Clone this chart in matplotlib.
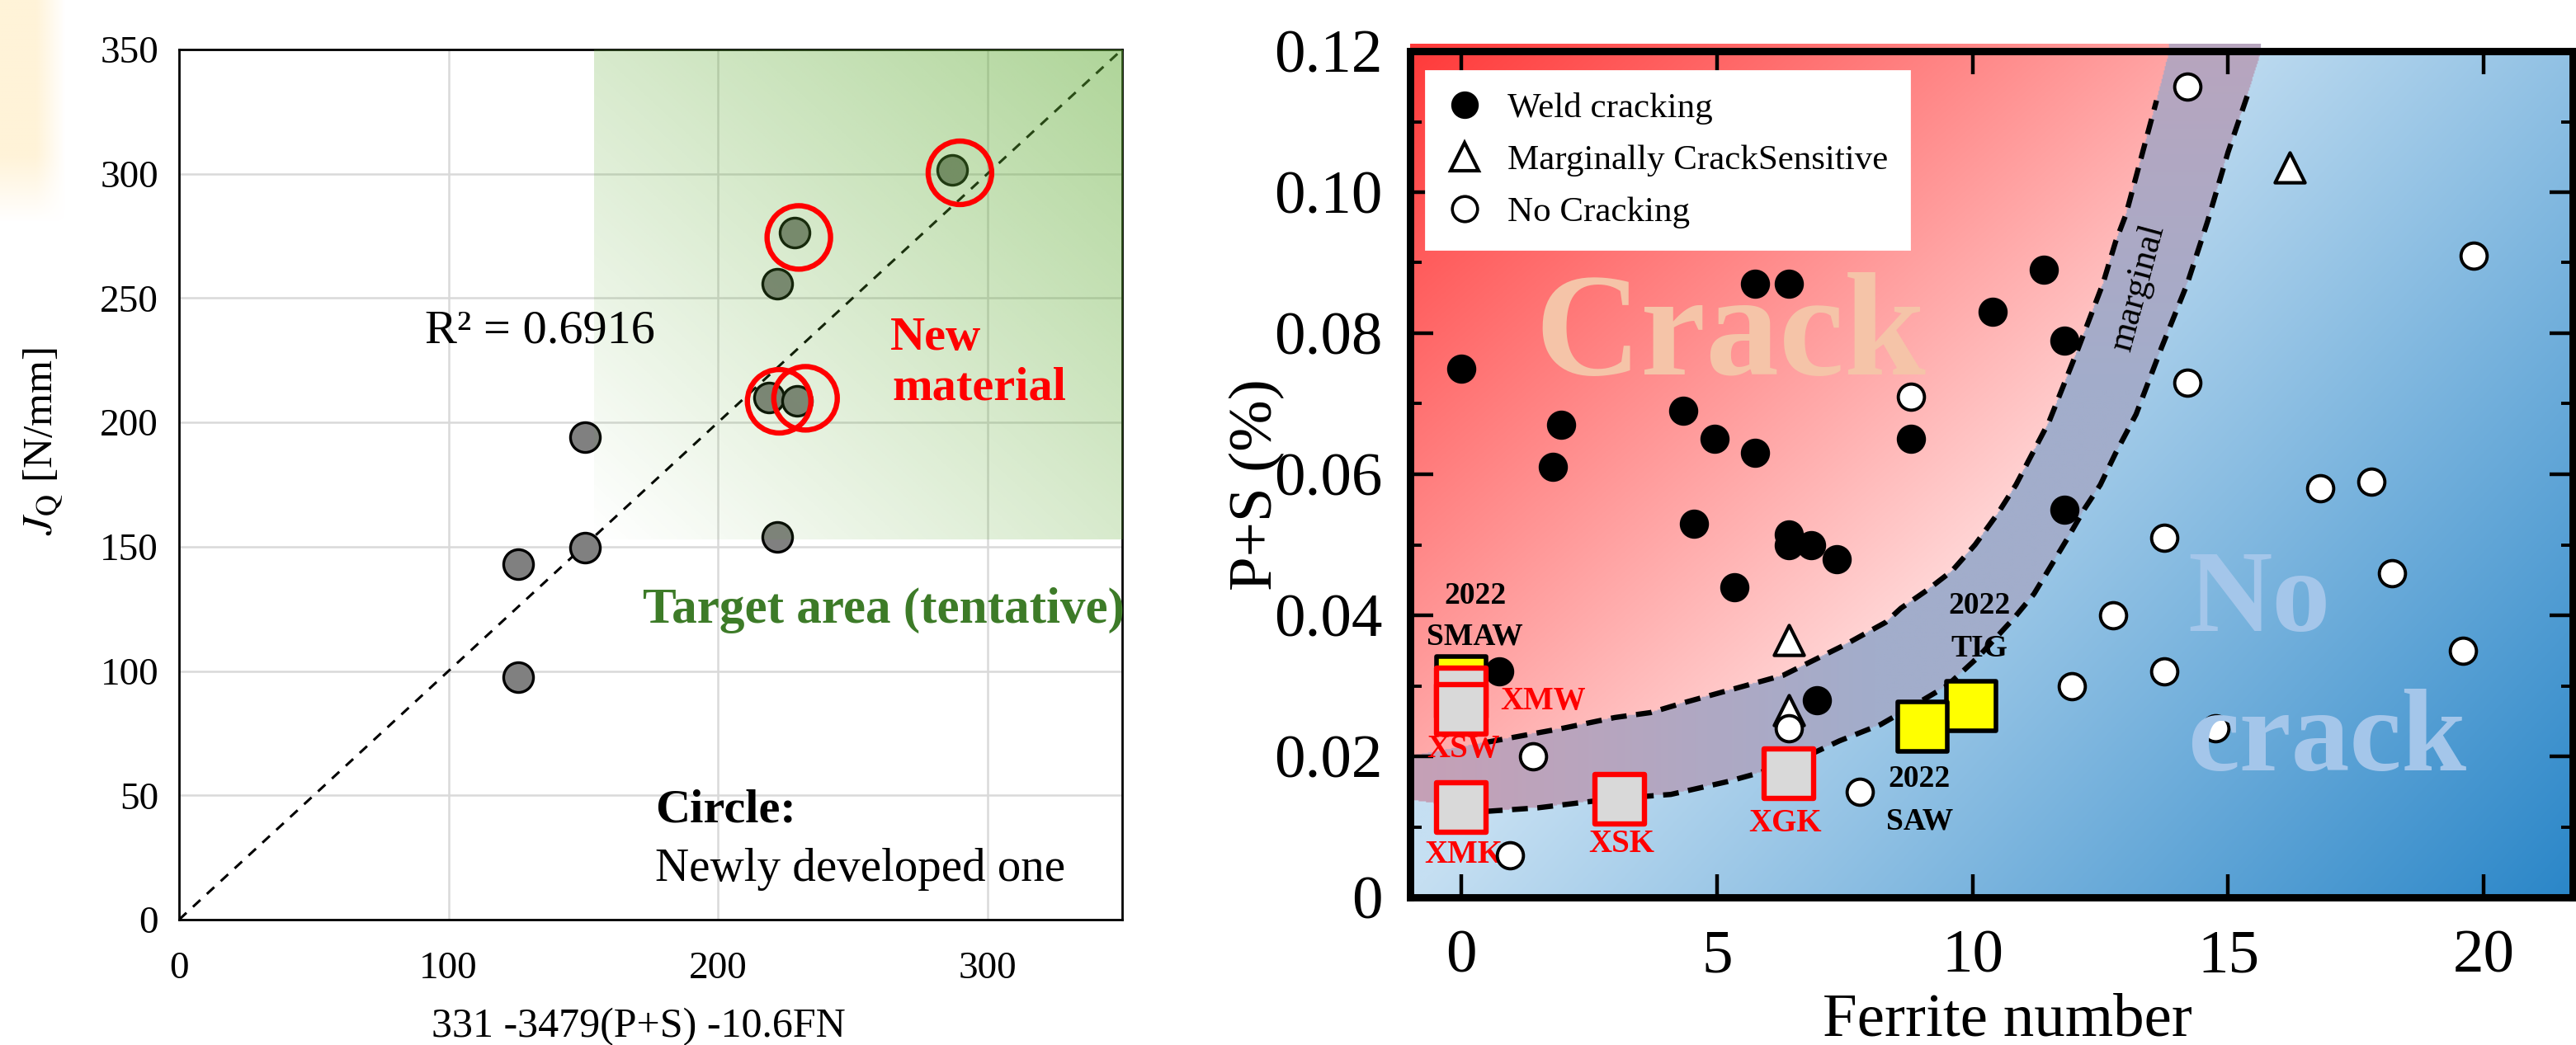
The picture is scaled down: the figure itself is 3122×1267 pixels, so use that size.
import numpy as np
import matplotlib.pyplot as plt
from matplotlib.lines import Line2D
from matplotlib.ticker import MultipleLocator, FuncFormatter
from matplotlib.colors import to_rgb

plt.rcParams['font.family'] = 'Liberation Serif'
plt.rcParams['mathtext.fontset'] = 'stix'

# ---------------- left panel data ----------------
est_val = [125.8, 125.8, 150.8, 150.8, 222, 222, 228.4, 219, 229.4, 287]
jq_val = [97.5, 143, 149.7, 194, 154, 255.9, 276.2, 210, 208.8, 301.6]
# red rings around the newly developed materials
ring_x = [289.8, 230, 222.7, 232.5]
ring_y = [300.4, 274.4, 208.5, 209.7]

# ---------------- right panel data ----------------
weld_fn = [0.0, 0.75, 1.8, 1.95, 4.35, 4.55, 4.95, 5.35, 5.75, 5.75, 6.4, 6.4, 6.4,
           6.85, 6.95, 7.35, 8.8, 10.4, 11.4, 11.8, 11.8]
weld_ps = [0.075, 0.032, 0.061, 0.067, 0.069, 0.053, 0.065, 0.044, 0.087, 0.063, 0.087,
           0.0515, 0.050, 0.050, 0.028, 0.048, 0.065, 0.083, 0.089, 0.079, 0.055]

marg_fn = [6.4, 6.4, 16.2]
marg_ps = [0.0365, 0.0265, 0.1035]

nocrack_fn = [0.95, 1.4, 6.4, 7.8, 8.8, 11.95, 12.75, 13.75, 13.75, 14.2, 14.2, 14.75,
              16.8, 17.8, 18.2, 19.6, 19.8]
nocrack_ps = [0.006, 0.020, 0.024, 0.015, 0.071, 0.030, 0.040, 0.032, 0.051, 0.073, 0.115,
              0.024, 0.058, 0.059, 0.046, 0.035, 0.091]

# new materials (grey squares) and 2022 welds (yellow squares)
new_names = ['XMW', 'XSW', 'XMK', 'XSK', 'XGK']
new_fn = [0.0, 0.0, 0.0, 3.1, 6.4]
new_ps = [0.029, 0.0267, 0.0127, 0.0139, 0.0176]

weld22_names = ['SMAW', 'TIG', 'SAW']
weld22_fn = [0.0, 9.97, 9.03]
weld22_ps = [0.0307, 0.0271, 0.0242]

# boundaries of the "marginal" band
upper_fn = [-1.0, 0.5, 2.0, 3.0, 3.7, 4.4, 5.3, 6.3, 7.5, 8.3, 8.6, 9.1, 9.6, 10.05,
            10.5, 10.85, 11.5, 12.05, 12.55, 12.8, 13.0, 13.6, 13.85]
upper_ps = [0.0200, 0.0220, 0.0240, 0.0255, 0.0262, 0.0277, 0.0295, 0.0315, 0.0358,
            0.0390, 0.0410, 0.0435, 0.0463, 0.0500, 0.0545, 0.0585, 0.0675, 0.0775,
            0.0870, 0.0930, 0.0968, 0.1130, 0.1200]
lower_fn = [-1.0, 0.5, 1.5, 2.3, 3.0, 4.1, 5.2, 5.8, 6.6, 7.4, 8.2, 8.8, 9.5, 10.1,
            10.8, 11.2, 11.85, 12.2, 12.5, 12.8, 13.2, 13.7, 14.2, 14.6, 15.0, 15.4, 15.65]
lower_ps = [0.0138, 0.0122, 0.0127, 0.0134, 0.0140, 0.0146, 0.0164, 0.0176, 0.0195,
            0.0222, 0.0245, 0.0270, 0.0300, 0.0340, 0.0395, 0.0430, 0.0508, 0.0552,
            0.0585, 0.0630, 0.0685, 0.0780, 0.0870, 0.0959, 0.1057, 0.1142, 0.1200]

legend_labels = ['Weld cracking', 'Marginally CrackSensitive', 'No Cracking']

W, H = 3122, 1267
fig = plt.figure(figsize=(W / 200, H / 200), dpi=200)

# faint yellow glow in the top-left corner
gax = fig.add_axes([0, 1 - 270 / H, 80 / W, 270 / H])
gax.axis('off')
gx, gy = np.meshgrid(np.linspace(0, 1, 60), np.linspace(0, 1, 120))
glow = np.zeros((120, 60, 4))
glow[..., :3] = to_rgb('#fff2d4')
glow[..., 3] = 0.9 * np.clip((1 - gx) / 0.45, 0, 1) * np.clip(gy / 0.3, 0, 1)
gax.imshow(glow, origin='lower', aspect='auto', extent=(0, 1, 0, 1))

# ================= left panel =================
ax1 = fig.add_axes([217 / W, 1 - 1115 / H, (1360 - 217) / W, (1115 - 60) / H])
ax1.set_xlim(0, 350)
ax1.set_ylim(0, 350)
ax1.set_xticks([0, 100, 200, 300])
ax1.set_yticks(np.arange(0, 351, 50))
ax1.grid(True, color='#d9d9d9', lw=0.9, zorder=0)
ax1.set_axisbelow(True)
ax1.tick_params(length=0, labelsize=17, pad=9)
ax1.tick_params(axis='x', pad=14)
for sp in ax1.spines.values():
    sp.set_linewidth(1.0)
    sp.set_color('black')

ax1.plot([0, 350], [0, 350], color='black', lw=1.1, ls=(0, (4, 3.5)), zorder=2)
ax1.scatter(est_val, jq_val, s=169, facecolor='#808080', edgecolor='black', lw=1.2, zorder=3)

# green target area, fading toward the lower-left corner
gg = np.linspace(0, 1, 300)
GX, GY = np.meshgrid(gg, gg)
green = np.zeros((300, 300, 4))
green[..., :3] = to_rgb('#5fab33')
green[..., 3] = 0.5 * (GX + GY) / 2
ax1.imshow(green, extent=(154, 350, 153, 350), origin='lower', aspect='auto', zorder=4)

ax1.scatter(ring_x, ring_y, s=767, facecolor='none', edgecolor='#ff0000', lw=2.3, zorder=5)

ax1.text(176.6, 232, 'R² = 0.6916', fontsize=21, ha='right', va='baseline', zorder=6)
ax1.text(264, 229.4, 'New', fontsize=21, fontweight='bold', color='#ff0000', va='baseline', zorder=6)
ax1.text(264.8, 209.3, 'material', fontsize=21, fontweight='bold', color='#ff0000', va='baseline', zorder=6)
ax1.text(172.2, 119.3, 'Target area (tentative)', fontsize=22, fontweight='bold',
         color='#3d7b28', va='baseline', zorder=6)
ax1.text(176.6, 39.4, 'Circle:', fontsize=21, fontweight='bold', va='baseline', zorder=6)
ax1.text(176.6, 15.6, 'Newly developed one', fontsize=20.5, va='baseline', zorder=6)

ax1.set_xlabel('331 -3479(P+S) -10.6FN', fontsize=18)
ax1.xaxis.set_label_coords(0.487, -0.101)
ax1.set_ylabel(r'$J_{\mathrm{Q}}$ [N/mm]', fontsize=18.5)
ax1.yaxis.set_label_coords(-0.12, 0.55)

# ================= right panel =================
x0, x1 = -1.0, 21.74
ax2 = fig.add_axes([1709 / W, 1 - 1088 / H, (3118 - 1709) / W, (1088 - 62) / H])

nx, ny = 1100, 800
xs = np.linspace(x0, x1, nx)
ys = np.linspace(0, 0.121, ny)
X, Y = np.meshgrid(xs, ys)
yu = np.interp(xs, upper_fn, upper_ps, right=1.0)[None, :]
yl = np.interp(xs, lower_fn, lower_ps, right=1.0)[None, :]
u = (X - x0) / (x1 - x0)
v = Y / 0.12
t = np.clip((0.55 * u + 0.45 * (1 - v)) / 0.55, 0, 1)
red = np.stack([np.ones_like(t), (58 + 160 * t) / 255, (58 + 160 * t) / 255], -1)
s = np.clip((0.6 * u + 0.4 * (1 - v) - 0.4) / 0.6, 0, 1)
light = np.array(to_rgb('#c5dff2'))
dark = np.array(to_rgb('#2a86c8'))
blue = light + (dark - light) * s[..., None]
w = np.clip(u / 0.4, 0, 1) * (1 - 0.6 * np.clip((v - 0.6) / 0.4, 0, 1))
mauve = np.array(to_rgb('#c6a0b6'))
lav = np.array(to_rgb('#a2adcb'))
band = mauve + (lav - mauve) * w[..., None]
img = np.where((Y > yu)[..., None], red, np.where((Y < yl)[..., None], blue, band))
alpha = np.ones(X.shape)
alpha[(Y > 0.12) & (Y < yl)] = 0
ax2.imshow(np.dstack([img, alpha]), extent=(x0, x1, 0, 0.121), origin='lower',
           aspect='auto', interpolation='bilinear', zorder=0, clip_on=False)

dash = (0, (3, 1.8))
up_fn = [a for a, b in zip(upper_fn, upper_ps) if 0.4 <= a and b <= 0.114]
up_ps = [b for a, b in zip(upper_fn, upper_ps) if 0.4 <= a and b <= 0.114]
lo_fn = [a for a, b in zip(lower_fn, lower_ps) if 0.4 <= a and b <= 0.115]
lo_ps = [b for a, b in zip(lower_fn, lower_ps) if 0.4 <= a and b <= 0.115]
ax2.plot(up_fn, up_ps, color='black', lw=2.3, ls=dash, zorder=2)
ax2.plot(lo_fn, lo_ps, color='black', lw=2.3, ls=dash, zorder=2)

ax2.scatter(marg_fn, marg_ps, s=170, marker='^', facecolor='white', edgecolor='black', lw=1.5, zorder=3)
ax2.scatter(nocrack_fn, nocrack_ps, s=130, facecolor='white', edgecolor='black', lw=1.4, zorder=3.2)
ax2.scatter(weld_fn, weld_ps, s=150, facecolor='black', edgecolor='black', lw=0.5, zorder=3.4)

# squares
for nm, fx, fy in zip(weld22_names, weld22_fn, weld22_ps):
    ax2.scatter([fx], [fy], s=462, marker='s', facecolor='#ffff00', edgecolor='black', lw=2.0, zorder=4)
ax2.scatter(new_fn, new_ps, s=462, marker='s', facecolor='#d9d9d9', edgecolor='#ff0000', lw=2.3, zorder=4.5)

lab_pos = {'XMW': (1.6, 0.0278), 'XSW': (0.04, 0.021), 'XMK': (0.04, 0.006),
           'XSK': (3.14, 0.0076), 'XGK': (6.34, 0.0105)}
for nm in new_names:
    px, py = lab_pos[nm]
    ax2.text(px, py, nm, fontsize=14, fontweight='bold', color='#ff0000',
             ha='center', va='center', zorder=2.9)
lab22 = {'SMAW': (0.27, 0.0428, 0.037), 'TIG': (10.14, 0.0413, 0.0353), 'SAW': (8.96, 0.0168, 0.0108)}
for nm in weld22_names:
    px, py1, py2 = lab22[nm]
    ax2.text(px, py1, '2022', fontsize=13.5, fontweight='bold', ha='center', va='center', zorder=5)
    ax2.text(px, py2, nm, fontsize=13.5, fontweight='bold', ha='center', va='center', zorder=5)

ax2.text(1.45, 0.0742, 'Crack', fontsize=64, fontweight='bold', color='#f5c4a8',
         va='baseline', zorder=2.5)
ax2.text(14.2, 0.0378, 'No', fontsize=51, fontweight='bold', color='#a4c6ea', va='baseline', zorder=6)
ax2.text(14.2, 0.0180, 'crack', fontsize=51, fontweight='bold', color='#a4c6ea', va='baseline', zorder=6)
ax2.text(13.24, 0.0865, 'marginal', fontsize=16, rotation=75, ha='center', va='center', zorder=6)

handles = [Line2D([], [], ls='none', marker='o', ms=11, mfc='black', mec='black'),
           Line2D([], [], ls='none', marker='^', ms=12, mfc='white', mec='black', mew=1.5),
           Line2D([], [], ls='none', marker='o', ms=11, mfc='white', mec='black', mew=1.3)]
leg = ax2.legend(handles, legend_labels, loc='upper left', bbox_to_anchor=(0.0135, 0.9766),
                 frameon=True, fancybox=False, framealpha=1, edgecolor='white', facecolor='white',
                 fontsize=15.5, handlelength=1.0, handletextpad=0.7, labelspacing=0.55,
                 borderpad=0.6, borderaxespad=0)
leg.set_zorder(10)

ax2.set_xlim(x0, x1)
ax2.set_ylim(0, 0.12)
ax2.set_xticks([0, 5, 10, 15, 20])
ax2.yaxis.set_major_locator(MultipleLocator(0.02))
ax2.yaxis.set_minor_locator(MultipleLocator(0.01))
ax2.yaxis.set_major_formatter(FuncFormatter(lambda val, pos: '0' if abs(val) < 1e-9 else f'{val:.2f}'))
ax2.tick_params(which='both', direction='in', top=True, right=True, labelsize=27)
ax2.tick_params(which='major', length=10, width=1.6)
ax2.tick_params(which='minor', length=5, width=1.4)
ax2.tick_params(axis='y', pad=12)
ax2.tick_params(axis='x', pad=14)
for sp in ax2.spines.values():
    sp.set_linewidth(3.2)
    sp.set_zorder(8)

ax2.set_xlabel('Ferrite number', fontsize=27)
ax2.xaxis.set_label_coords(0.514, -0.113)
ax2.set_ylabel('P+S (%)', fontsize=27)
ax2.yaxis.set_label_coords(-0.108, 0.488)

fig.savefig('out.png', dpi=200)
